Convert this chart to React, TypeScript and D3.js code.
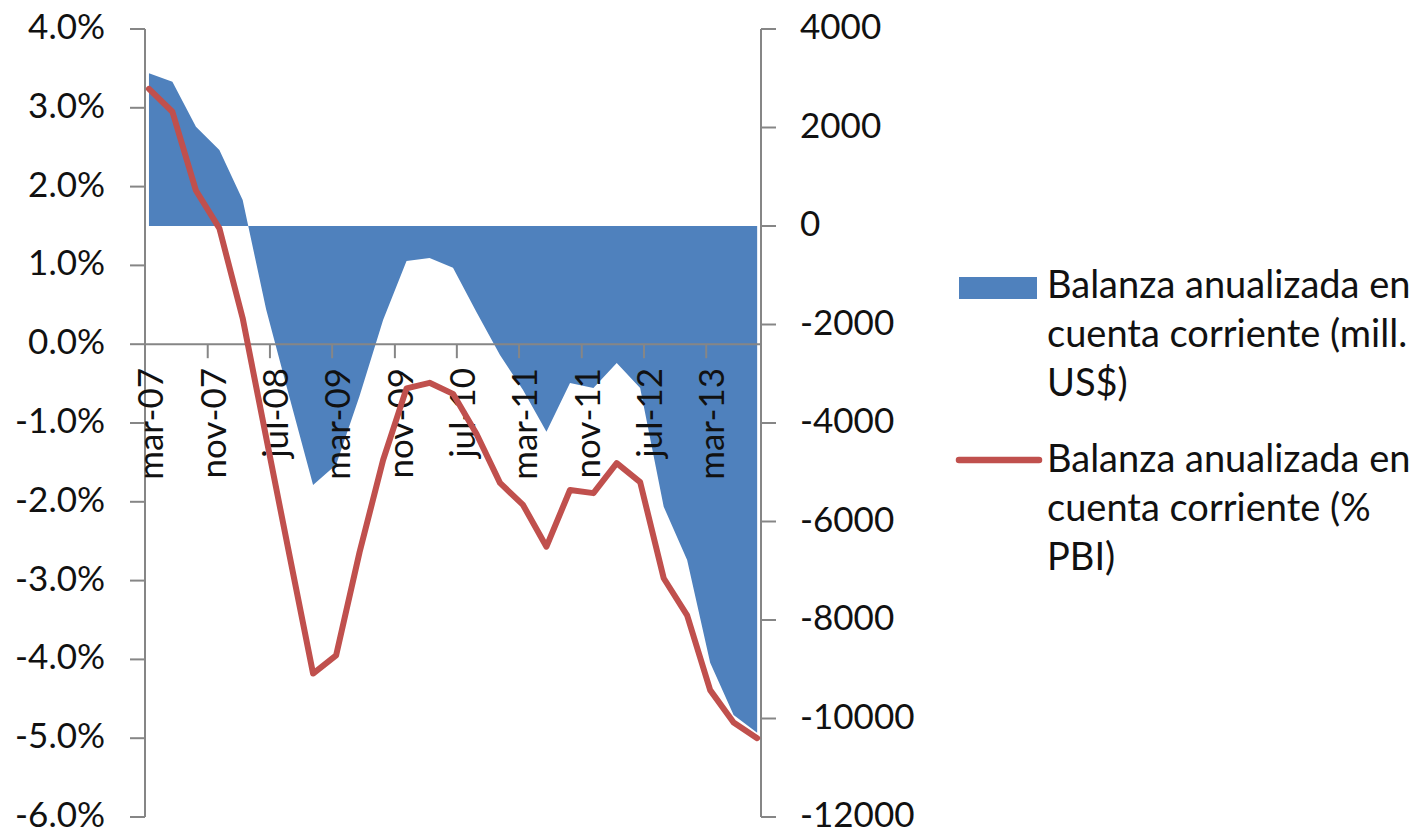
import React from 'react';
import * as d3 from 'd3';

// Quarterly observations (Spanish month abbreviations)
const quarters: string[] = [
  'mar-07', 'jun-07', 'sep-07', 'dic-07',
  'mar-08', 'jun-08', 'sep-08', 'dic-08',
  'mar-09', 'jun-09', 'sep-09', 'dic-09',
  'mar-10', 'jun-10', 'sep-10', 'dic-10',
  'mar-11', 'jun-11', 'sep-11', 'dic-11',
  'mar-12', 'jun-12', 'sep-12', 'dic-12',
  'mar-13', 'jun-13', 'sep-13',
];

// Balanza anualizada en cuenta corriente (mill. US$) — right axis
const balanzaUSD: number[] = [
  3100, 2930, 2016, 1543,
  528, -1690, -3490, -5260,
  -4850, -3450, -1910, -710,
  -650, -850, -1750, -2620,
  -3330, -4180, -3190, -3290,
  -2780, -3290, -5700, -6780,
  -8870, -9930, -10290,
];

// Balanza anualizada en cuenta corriente (% PBI) — left axis
const balanzaPBI: number[] = [
  3.24, 2.95, 1.95, 1.47,
  0.33, -1.18, -2.69, -4.18,
  -3.95, -2.64, -1.47, -0.56,
  -0.49, -0.63, -1.14, -1.76,
  -2.04, -2.57, -1.85, -1.89,
  -1.51, -1.75, -2.97, -3.44,
  -4.39, -4.8, -5.0,
];

const xTickLabels: string[] = [
  'mar-07', 'nov-07', 'jul-08', 'mar-09', 'nov-09',
  'jul-10', 'mar-11', 'nov-11', 'jul-12', 'mar-13',
];
const leftTicks: number[] = [4, 3, 2, 1, 0, -1, -2, -3, -4, -5, -6];
const rightTicks: number[] = [4000, 2000, 0, -2000, -4000, -6000, -8000, -10000, -12000];

const legendAreaLines: string[] = ['Balanza anualizada en', 'cuenta corriente (mill.', 'US$)'];
const legendLineLines: string[] = ['Balanza anualizada en', 'cuenta corriente (%', 'PBI)'];

const monthIdx: Record<string, number> = {
  ene: 0, feb: 1, mar: 2, abr: 3, may: 4, jun: 5,
  jul: 6, ago: 7, sep: 8, oct: 9, nov: 10, dic: 11,
};
const parseLabel = (s: string): Date => {
  const [m, y] = s.split('-');
  return new Date(2000 + +y, monthIdx[m], 1);
};

const FONT = 'Lato, "Open Sans", sans-serif';
const AXIS = '#868686';
const BLUE = '#4F81BD';
const RED = '#C0504D';
const TEXT = '#111';

export default function App() {
  const left = 145, right = 761, top = 29, bottom = 817;
  const dates = quarters.map(parseLabel);
  const x = d3
    .scaleTime()
    .domain([dates[0], d3.timeMonth.offset(dates[dates.length - 1], 1)])
    .range([left, right]);
  const xMid = (d: Date) => (x(d) + x(d3.timeMonth.offset(d, 1))) / 2;
  const yL = d3.scaleLinear().domain([-6, 4]).range([bottom, top]);
  const yR = d3.scaleLinear().domain([-12000, 4000]).range([bottom, top]);

  const areaGen = d3
    .area<number>()
    .x((_, i) => xMid(dates[i]))
    .y0(() => yR(0))
    .y1((v) => yR(v));
  const lineGen = d3
    .line<number>()
    .x((_, i) => xMid(dates[i]))
    .y((v) => yL(v));

  const y0 = yL(0);
  const fmtPct = (v: number) => `${v.toFixed(1)}%`;

  return (
    <svg
      width={1420}
      height={833}
      style={{ position: 'absolute', left: 0, top: 0, background: '#fff' }}
      fontFamily={FONT}
    >
      <rect x={0} y={0} width={1420} height={833} fill="#fff" />
      {/* area series */}
      <path d={areaGen(balanzaUSD) || ''} fill={BLUE} />

      {/* left axis */}
      <line x1={left} x2={left} y1={top} y2={bottom} stroke={AXIS} strokeWidth={2} />
      {leftTicks.map((t) => (
        <g key={`l${t}`}>
          <line x1={left - 15} x2={left} y1={yL(t)} y2={yL(t)} stroke={AXIS} strokeWidth={2} />
          <text x={105} y={yL(t) + 10} textAnchor="end" fontSize={35} fill={TEXT}>
            {fmtPct(t)}
          </text>
        </g>
      ))}

      {/* right axis */}
      <line x1={right} x2={right} y1={top} y2={bottom} stroke={AXIS} strokeWidth={2} />
      {rightTicks.map((t) => (
        <g key={`r${t}`}>
          <line x1={right} x2={right + 15} y1={yR(t)} y2={yR(t)} stroke={AXIS} strokeWidth={2} />
          <text x={800} y={yR(t) + 10} textAnchor="start" fontSize={35} fill={TEXT}>
            {t}
          </text>
        </g>
      ))}

      {/* category axis at 0% */}
      <line x1={left} x2={right} y1={y0} y2={y0} stroke={AXIS} strokeWidth={2} />
      {xTickLabels.map((s) => {
        const tx = x(parseLabel(s));
        return (
          <g key={s}>
            <line x1={tx} x2={tx} y1={y0} y2={y0 + 14} stroke={AXIS} strokeWidth={2} />
            <text
              transform={`translate(${tx + 18},368) rotate(-90)`}
              textAnchor="end"
              fontSize={35}
              fill={TEXT}
            >
              {s}
            </text>
          </g>
        );
      })}

      {/* line series */}
      <path
        d={lineGen(balanzaPBI) || ''}
        fill="none"
        stroke={RED}
        strokeWidth={6}
        strokeLinejoin="round"
        strokeLinecap="round"
      />

      {/* legend */}
      <rect x={959} y={277} width={78} height={22} fill={BLUE} />
      {legendAreaLines.map((t, i) => (
        <text key={`la${i}`} x={1047} y={298 + i * 49} fontSize={38} fill={TEXT}>
          {t}
        </text>
      ))}
      <line x1={959} x2={1039} y1={460} y2={460} stroke={RED} strokeWidth={6.5} strokeLinecap="round" />
      {legendLineLines.map((t, i) => (
        <text key={`ll${i}`} x={1047} y={472 + i * 49} fontSize={38} fill={TEXT}>
          {t}
        </text>
      ))}
    </svg>
  );
}
